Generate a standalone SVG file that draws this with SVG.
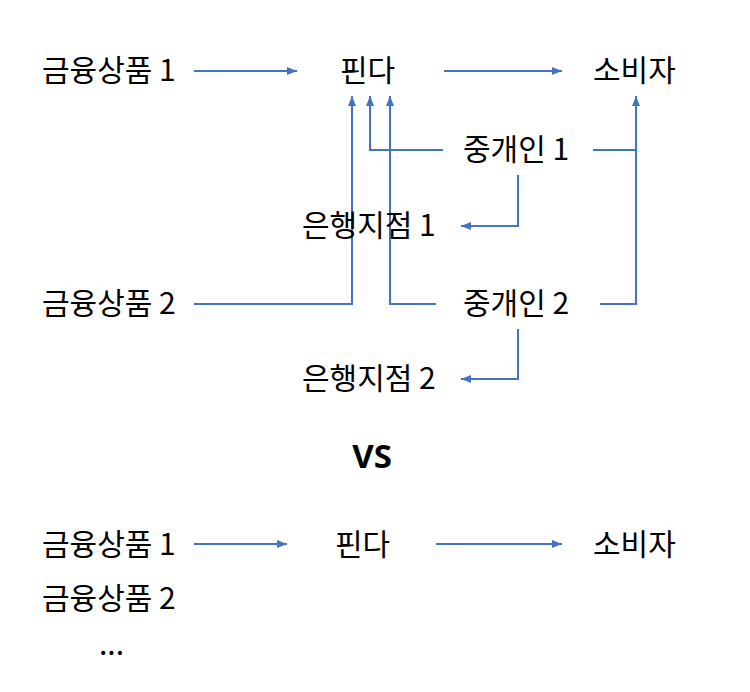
<svg xmlns="http://www.w3.org/2000/svg" width="750" height="692" viewBox="0 0 750 692">
<style>
text{font-family:"Noto Sans CJK KR","Noto Sans",sans-serif;font-size:30px;fill:#000}
.c{fill:none;stroke:#4472C4;stroke-width:2}
.vs{font-family:"Open Sans","Noto Sans",sans-serif;font-weight:bold;font-size:33px}
</style>
<defs>
<marker id="a" markerWidth="10" markerHeight="8" refX="10" refY="4" orient="auto" markerUnits="userSpaceOnUse">
<path d="M0,0 L10,4 L0,8 Z" fill="#4472C4"/>
</marker>
</defs>
<rect width="750" height="692" fill="#fff"/>
<g id="connectors">
<path class="c" d="M194,71 H297" marker-end="url(#a)"/>
<path class="c" d="M444,71 H562" marker-end="url(#a)"/>
<path class="c" d="M194,304 H352 V96" marker-end="url(#a)"/>
<path class="c" d="M443,150 H370 V96" marker-end="url(#a)"/>
<path class="c" d="M436,304 H390 V96" marker-end="url(#a)"/>
<path class="c" d="M593,150 H636"/>
<path class="c" d="M600,304 H636 V96" marker-end="url(#a)"/>
<path class="c" d="M518,175 V226 H461" marker-end="url(#a)"/>
<path class="c" d="M518,329 V379 H461" marker-end="url(#a)"/>
<path class="c" d="M194,544 H287" marker-end="url(#a)"/>
<path class="c" d="M436,544 H562" marker-end="url(#a)"/>
</g>
<g id="n1"><text x="42" y="81">금융상품 1</text></g>
<g id="n2"><text x="340" y="81">핀다</text></g>
<g id="n3"><text x="593" y="81">소비자</text></g>
<g id="n4"><text x="463" y="160">중개인 1</text></g>
<g id="n5"><text x="302" y="236">은행지점 1</text></g>
<g id="n6"><text x="42" y="314">금융상품 2</text></g>
<g id="n7"><text x="463" y="314">중개인 2</text></g>
<g id="n8"><text x="302" y="389">은행지점 2</text></g>
<g id="vs"><text class="vs" x="372" y="468" text-anchor="middle">VS</text></g>
<g id="n9"><text x="42" y="555">금융상품 1</text></g>
<g id="n10"><text x="335" y="555">핀다</text></g>
<g id="n11"><text x="593" y="555">소비자</text></g>
<g id="n12"><text x="42" y="609">금융상품 2</text></g>
<g id="n13"><text x="99" y="655">...</text></g>
</svg>
